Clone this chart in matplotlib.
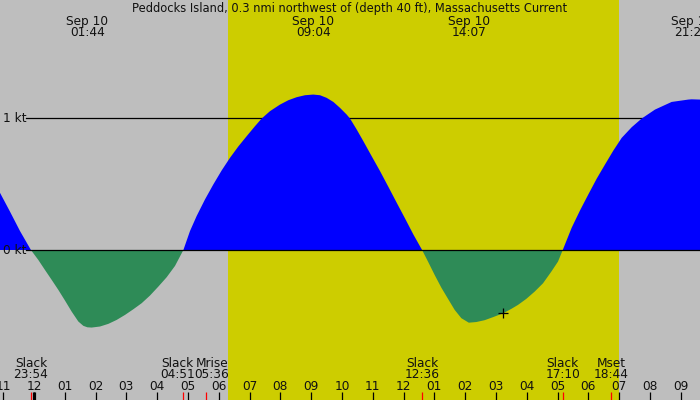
import matplotlib
matplotlib.use("Agg")
import matplotlib.pyplot as plt
import numpy as np

# ---- data (hours since Sep 10 00:00, current speed in knots; + flood, - ebb) ----
times = [-1.104, -0.779, -0.455, -0.1,
         0.141, 0.357, 0.574, 0.790, 1.006, 1.223, 1.439, 1.602, 1.733, 1.872, 2.143,
         2.413, 2.684, 2.955, 3.225, 3.496, 3.766, 4.037, 4.307, 4.578, 4.85,
         5.065, 5.281, 5.552, 5.823, 6.093, 6.364, 6.634, 6.905, 7.175, 7.392, 7.662,
         7.987, 8.258, 8.528, 8.799, 9.067, 9.286, 9.502, 9.719, 9.935, 10.152, 10.26,
         10.476, 10.693, 10.963, 11.234, 11.504, 11.775, 12.045, 12.316, 12.6,
         12.792, 13.009, 13.225, 13.442, 13.658, 13.875, 14.117, 14.361, 14.632, 14.903,
         15.238, 15.498, 15.714, 15.985, 16.255, 16.526, 16.797, 17.013, 17.167,
         17.457, 17.727, 17.998, 18.268, 18.539, 18.810, 19.080, 19.405, 19.730, 20.162,
         20.703, 21.244, 21.35, 21.623]
speeds = [0.434, 0.291, 0.144, 0.0,
          -0.076, -0.152, -0.227, -0.303, -0.384, -0.468, -0.543, -0.576, -0.587, -0.589, -0.581,
          -0.561, -0.531, -0.493, -0.450, -0.404, -0.346, -0.278, -0.207, -0.121, 0.0,
          0.144, 0.258, 0.384, 0.498, 0.604, 0.700, 0.786, 0.864, 0.940, 0.998, 1.054,
          1.104, 1.137, 1.160, 1.175, 1.180, 1.175, 1.155, 1.124, 1.079, 1.028, 0.998,
          0.915, 0.826, 0.712, 0.599, 0.480, 0.359, 0.240, 0.118, 0.0,
          -0.088, -0.190, -0.286, -0.371, -0.455, -0.518, -0.552, -0.547, -0.533, -0.510,
          -0.480, -0.447, -0.417, -0.371, -0.316, -0.253, -0.164, -0.088, 0.0,
          0.169, 0.300, 0.422, 0.541, 0.649, 0.755, 0.851, 0.932, 0.998, 1.066,
          1.124, 1.142, 1.144, 1.142]

title = "Peddocks Island, 0.3 nmi northwest of (depth 40 ft), Massachusetts Current"

max_times = [1.733, 9.067, 14.117, 21.35]
max_dates = ["Sep 10", "Sep 10", "Sep 10", "Sep 10"]
max_labels = ["01:44", "09:04", "14:07", "21:21"]

event_times = [-0.1, 4.85, 5.6, 12.6, 17.167, 18.733]
event_names = ["Slack", "Slack", "Mrise", "Slack", "Slack", "Mset"]
event_labels = ["23:54", "04:51", "05:36", "12:36", "17:10", "18:44"]
event_shift = [0.0, -0.18, 0.17, 0.0, 0.0, 0.0]   # label offsets (h) to avoid overlap

hour_ticks = list(range(-1, 22))
hour_labels = ["11", "12", "01", "02", "03", "04", "05", "06", "07", "08", "09", "10",
               "11", "12", "01", "02", "03", "04", "05", "06", "07", "08", "09"]

sunrise, sunset = 6.30, 18.99
marker_t, marker_v = 15.24, -0.48
kt_levels = [0, 1]
kt_labels = ["0 kt", "1 kt"]

# ---- style ----
GREY = "#BEBEBE"
YELLOW = "#CDCD00"
BLUE = "#0000FF"
GREEN = "#2E8B57"
TXT = "#111111"
FS = 8.7
W, H = 700, 400

fig = plt.figure(figsize=(7, 4), dpi=100)
fig.patch.set_facecolor(GREY)
ax = fig.add_axes([0, 0, 1, 1])
ax.set_xlim(-1.104, 21.623)
ax.set_ylim(-1.139, 1.898)
ax.axis("off")

def fy(py):
    return 1 - py / H

xt = ax.get_xaxis_transform()

ax.axvspan(sunrise, sunset, color=YELLOW, zorder=0, lw=0)

t = np.array(times)
v = np.array(speeds)

# 1 kt line behind fill
ax.axhline(1, xmin=26 / W, xmax=1, color="black", lw=0.9, zorder=1)
ax.fill_between(t, v, 0, where=v >= 0, interpolate=True, color=BLUE, lw=0, zorder=2)
ax.fill_between(t, v, 0, where=v <= 0, interpolate=True, color=GREEN, lw=0, zorder=2)
ax.axhline(0, xmin=26 / W, xmax=1, color="black", lw=0.9, zorder=3)

for lev, lab in zip(kt_levels, kt_labels):
    ax.annotate(lab, xy=(0, lev), xycoords=("axes fraction", "data"),
                xytext=(2.7, -4.2), textcoords="offset pixels",
                ha="left", va="baseline", fontsize=FS, color=TXT)

ax.plot([marker_t], [marker_v], marker="+", color="black", ms=7, mew=0.9, zorder=4)

ax.text(0.5, fy(12), title, transform=ax.transAxes, ha="center", va="baseline",
        fontsize=8.3, color=TXT)

for mt, md, ml in zip(max_times, max_dates, max_labels):
    ax.text(mt, fy(24.5), md, transform=xt, ha="center", va="baseline", fontsize=FS, color=TXT)
    ax.text(mt, fy(36), ml, transform=xt, ha="center", va="baseline", fontsize=FS, color=TXT)

# hour ticks
ax.vlines(hour_ticks, fy(400), fy(392), transform=xt, color="black", lw=0.9, zorder=5)
for ht, hl in zip(hour_ticks, hour_labels):
    ax.text(ht, fy(390), hl, transform=xt, ha="center", va="baseline", fontsize=FS, color=TXT)

# midnight marker
ax.vlines([0], fy(400), fy(392), transform=xt, color="black", lw=2.3, zorder=5)

# events
ax.vlines(event_times, fy(400), fy(392), transform=xt, color="red", lw=0.9, zorder=6)
for et, en, el, es in zip(event_times, event_names, event_labels, event_shift):
    ax.text(et + es, fy(367), en, transform=xt, ha="center", va="baseline", fontsize=FS, color=TXT)
    ax.text(et + es, fy(378.5), el, transform=xt, ha="center", va="baseline", fontsize=FS, color=TXT)

fig.savefig("out.png", dpi=100, facecolor=GREY)
